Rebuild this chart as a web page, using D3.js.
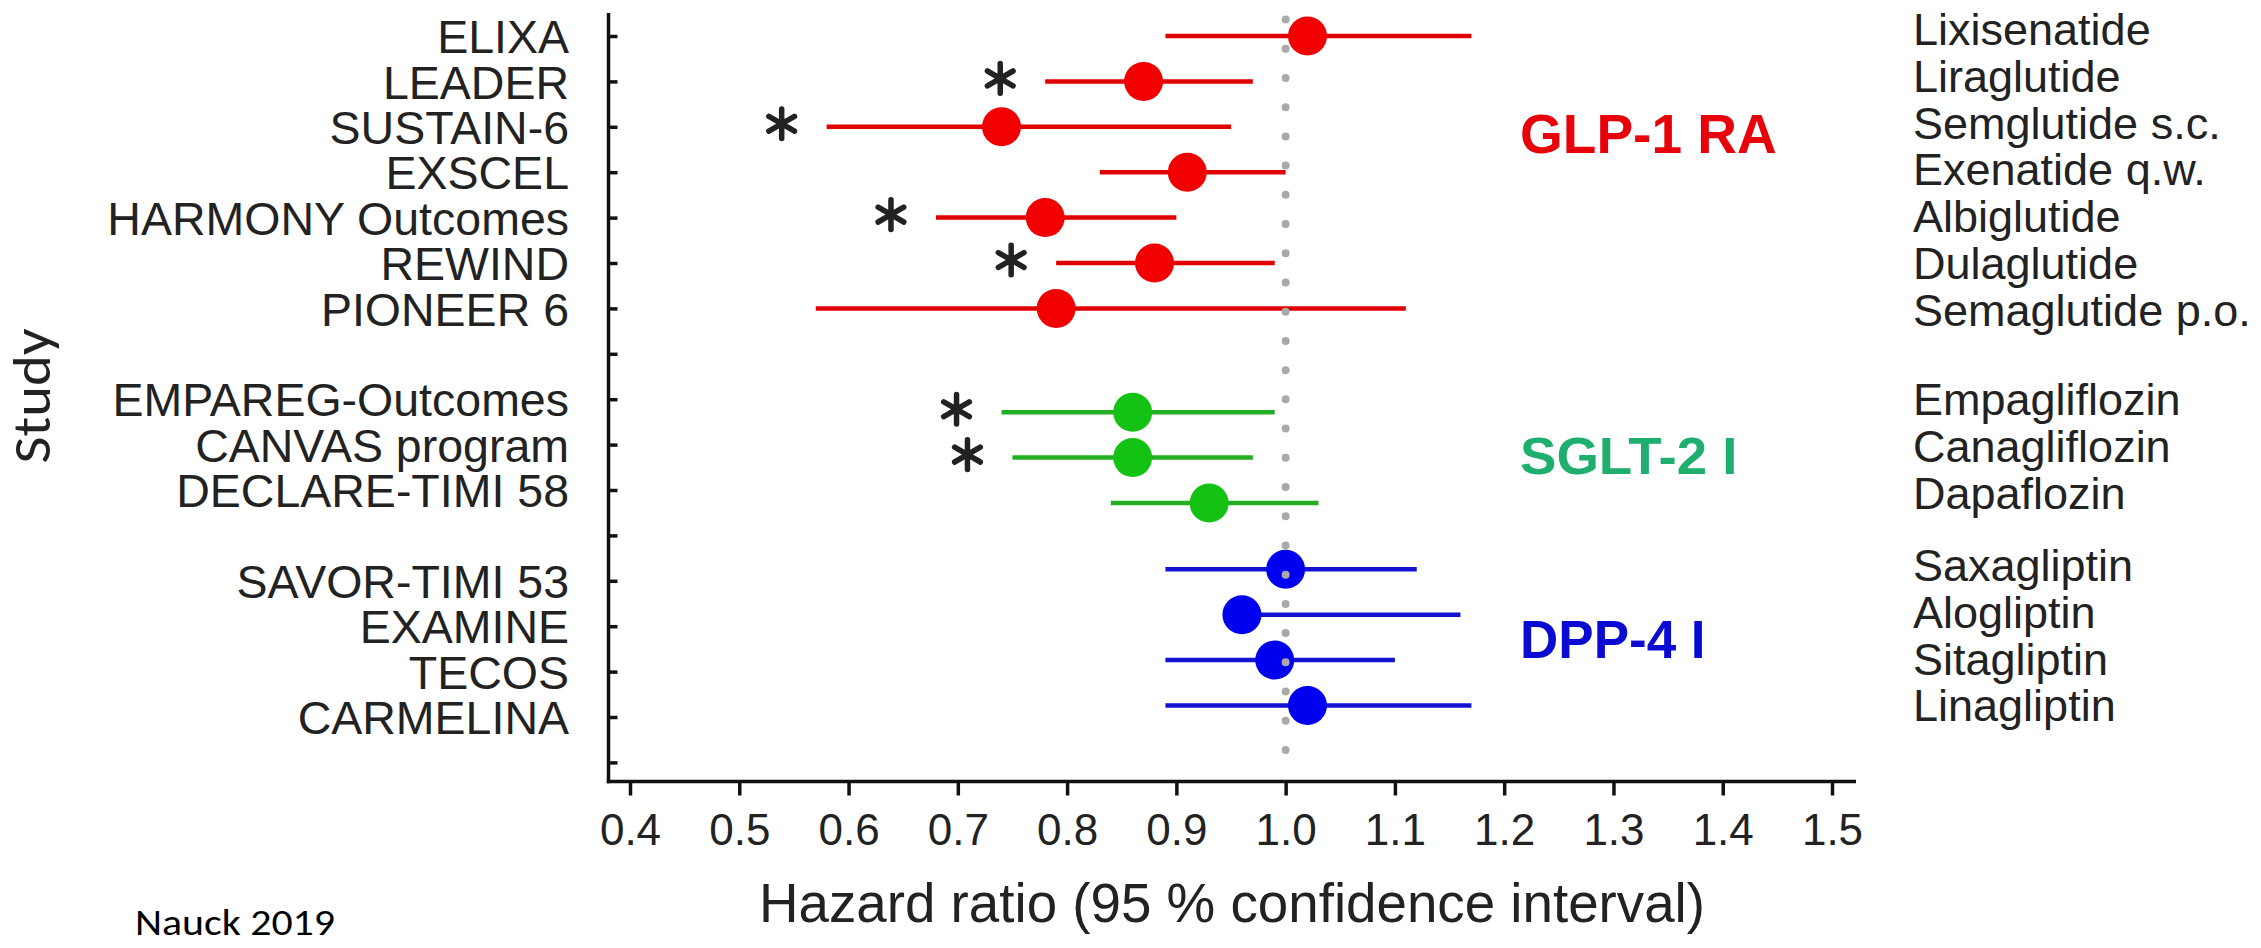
<!DOCTYPE html>
<html>
<head>
<meta charset="utf-8">
<script src="https://cdn.jsdelivr.net/npm/d3@7"></script>
<style>
  html, body { margin: 0; padding: 0; background: #fff; }
  svg { display: block; }
</style>
</head>
<body>
<svg id="chart" width="2261" height="948"></svg>
<script>
// Cardiovascular outcome trials: hazard ratio (95 % CI) per study, grouped by drug class

const studies = ["ELIXA", "LEADER", "SUSTAIN-6", "EXSCEL", "HARMONY Outcomes", "REWIND", "PIONEER 6",
                 "EMPAREG-Outcomes", "CANVAS program", "DECLARE-TIMI 58",
                 "SAVOR-TIMI 53", "EXAMINE", "TECOS", "CARMELINA"];
const drugs = ["Lixisenatide", "Liraglutide", "Semglutide s.c.", "Exenatide q.w.", "Albiglutide", "Dulaglutide", "Semaglutide p.o.",
               "Empagliflozin", "Canagliflozin", "Dapaflozin",
               "Saxagliptin", "Alogliptin", "Sitagliptin", "Linagliptin"];
const classOf = [0, 0, 0, 0, 0, 0, 0, 1, 1, 1, 2, 2, 2, 2];
const classNames = ["GLP-1 RA", "SGLT-2 I", "DPP-4 I"];
const hazardRatio = [1.02, 0.87, 0.74, 0.91, 0.78, 0.88, 0.79, 0.86, 0.86, 0.93, 1.00, 0.96, 0.99, 1.02];
const ciLower     = [0.89, 0.78, 0.58, 0.83, 0.68, 0.79, 0.57, 0.74, 0.75, 0.84, 0.89, null, 0.89, 0.89];
const ciUpper     = [1.17, 0.97, 0.95, 1.00, 0.90, 0.99, 1.11, 0.99, 0.97, 1.03, 1.12, 1.16, 1.10, 1.17];
const significant = [false, true, true, false, true, true, false, true, true, false, false, false, false, false];
const xTicks = [0.4, 0.5, 0.6, 0.7, 0.8, 0.9, 1.0, 1.1, 1.2, 1.3, 1.4, 1.5];

// ---- styling ----
const FONT = "'Liberation Sans', Arial, Helvetica, sans-serif";
const FONT2 = "Carlito, Calibri, Lato, 'Open Sans', sans-serif";
const ink = "#222";
const dotColor = "#a9a9a9";
const markColor  = ["#f20000", "#14c214", "#0000f0"];
const lineColor  = ["#e00000", "#22b022", "#1212d0"];
const labelColor = ["#e8000a", "#1eae6e", "#0a0ad2"];
const pointShift = [0, 13, -11.5];     // vertical nudge of markers within each class block
const drugShift  = [-7.3, 0, -16];     // vertical nudge of the right-hand drug column
const drugGapExtra = 1.4;              // drug column line pitch is slightly larger than the row pitch

const svg = d3.select("#chart");

// ---- scales ----
const nRows = studies.length + classNames.length;          // one blank row after each class
const row = i => i + classOf[i];
const x = d3.scaleLinear().domain([0.4, 1.5]).range([630, 1832]);
const y = d3.scaleLinear().domain([0, nRows - 1]).range([36, 762.4]);

const axisX = 608.5, axisY = 781.5;
const rowLabel = d3.range(nRows).map(r => {
  const i = studies.findIndex((s, k) => row(k) === r);
  return i < 0 ? "" : studies[i];
});

// ---- y axis (inward ticks, study names on the left) ----
const gy = svg.append("g")
  .attr("transform", `translate(${axisX},0)`)
  .call(d3.axisLeft(y)
    .tickValues(d3.range(nRows))
    .tickSizeInner(-9).tickSizeOuter(0).tickPadding(39.5)
    .tickFormat(r => rowLabel[r]));
gy.select(".domain").remove();
gy.selectAll(".tick line").attr("stroke", "#111").attr("stroke-width", 3.5);
gy.selectAll(".tick text")
  .attr("dy", "0.36em")
  .attr("font-family", FONT).attr("font-size", 46.5).attr("fill", ink);

// ---- x axis ----
const gx = svg.append("g")
  .attr("transform", `translate(0,${axisY})`)
  .call(d3.axisBottom(x).tickValues(xTicks).tickSize(14).tickPadding(18)
    .tickFormat(d3.format(".1f")));
gx.select(".domain").remove();
gx.selectAll(".tick line").attr("stroke", "#111").attr("stroke-width", 3.5);
gx.selectAll(".tick text")
  .attr("font-family", FONT).attr("font-size", 44).attr("fill", ink);

// axis spines
svg.append("line")
  .attr("x1", axisX).attr("x2", axisX).attr("y1", 13).attr("y2", axisY + 1.75)
  .attr("stroke", "#111").attr("stroke-width", 3.5);
svg.append("line")
  .attr("x1", axisX - 1.75).attr("x2", 1856).attr("y1", axisY).attr("y2", axisY)
  .attr("stroke", "#111").attr("stroke-width", 3.5);

// ---- confidence intervals and point estimates ----
const idx = d3.range(studies.length);
const py = i => y(row(i)) + pointShift[classOf[i]];

svg.append("g").selectAll("line").data(idx).join("line")
  .attr("x1", i => x(ciLower[i] ?? hazardRatio[i]))
  .attr("x2", i => x(ciUpper[i]))
  .attr("y1", py).attr("y2", py)
  .attr("stroke", i => lineColor[classOf[i]])
  .attr("stroke-width", 4.5);

svg.append("g").selectAll("circle").data(idx).join("circle")
  .attr("cx", i => x(hazardRatio[i]))
  .attr("cy", py)
  .attr("r", 19.5)
  .attr("fill", i => markColor[classOf[i]]);

// significance markers left of the interval
const star = d3.symbol(d3.symbolAsterisk, 620)();
svg.append("g").selectAll("path").data(idx.filter(i => significant[i])).join("path")
  .attr("d", star)
  .attr("transform", i => `translate(${x(ciLower[i]) - 45},${py(i) - 3})`)
  .attr("fill", "none")
  .attr("stroke", ink)
  .attr("stroke-width", 5.5)
  .attr("stroke-linecap", "round");

// ---- dotted line of no effect (HR = 1.0) ----
svg.append("line")
  .attr("x1", x(1)).attr("x2", x(1))
  .attr("y1", 19.5).attr("y2", 750.5)
  .attr("stroke", dotColor)
  .attr("stroke-width", 8)
  .attr("stroke-linecap", "round")
  .attr("stroke-dasharray", "0 29.22");

// ---- drug names on the right ----
const firstOfClass = classNames.map((c, k) => classOf.indexOf(k));
svg.append("g").selectAll("text").data(idx).join("text")
  .attr("x", 1913)
  .attr("y", i => {
    const k = classOf[i];
    return y(row(i)) + drugShift[k] + (i - firstOfClass[k]) * drugGapExtra;
  })
  .attr("dy", "0.36em")
  .attr("font-family", FONT).attr("font-size", 45).attr("fill", ink)
  .text(i => drugs[i]);

// ---- class labels ----
const classLabelLayout = [
  { x: 1520, y: 153, size: 55, sx: 1 },
  { x: 1520, y: 474, size: 52, sx: 1.05 },
  { x: 1520, y: 658, size: 53, sx: 1 }
];
svg.append("g").selectAll("text").data(classNames).join("text")
  .attr("transform", (d, k) => `translate(${classLabelLayout[k].x},${classLabelLayout[k].y}) scale(${classLabelLayout[k].sx},1)`)
  .attr("font-family", FONT).attr("font-weight", "bold")
  .attr("font-size", (d, k) => classLabelLayout[k].size)
  .attr("fill", (d, k) => labelColor[k])
  .text(d => d);

// ---- titles ----
svg.append("text")
  .attr("x", 1232).attr("y", 922)
  .attr("text-anchor", "middle")
  .attr("font-family", FONT).attr("font-size", 55).attr("fill", ink)
  .attr("textLength", 946).attr("lengthAdjust", "spacingAndGlyphs")
  .text("Hazard ratio (95 % confidence interval)");

svg.append("text")
  .attr("transform", "translate(50,396) rotate(-90)")
  .attr("text-anchor", "middle")
  .attr("font-family", FONT2).attr("font-size", 53).attr("fill", ink)
  .attr("textLength", 135).attr("lengthAdjust", "spacingAndGlyphs")
  .text("Study");

svg.append("text")
  .attr("x", 135).attr("y", 935)
  .attr("font-family", FONT2).attr("font-size", 37).attr("fill", "#000")
  .attr("textLength", 200).attr("lengthAdjust", "spacingAndGlyphs")
  .text("Nauck 2019");
</script>
</body>
</html>
